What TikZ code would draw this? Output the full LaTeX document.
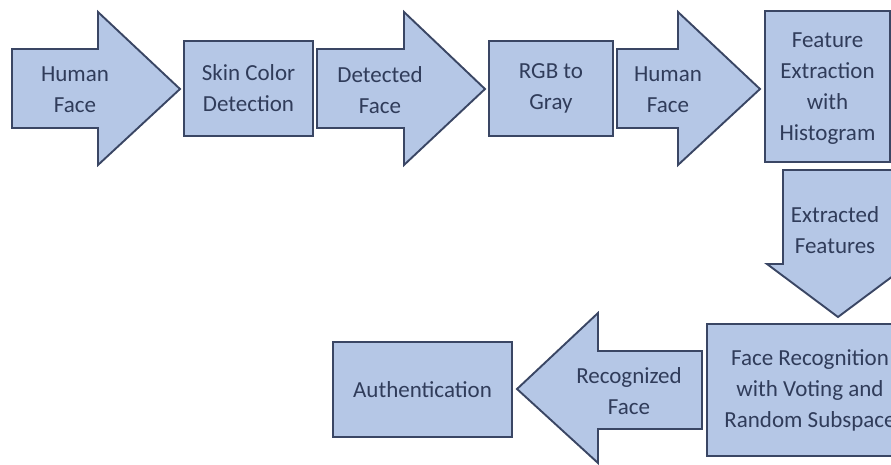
\documentclass[tikz,border=0pt]{standalone}
\usepackage{fontspec}
\setmainfont{Carlito}
\definecolor{boxfill}{RGB}{181,199,230}
\definecolor{boxline}{RGB}{58,70,100}
\definecolor{boxtext}{RGB}{48,60,90}
\begin{document}
\begin{tikzpicture}[x=1pt,y=-1pt,
  shapeline/.style={draw=boxline,fill=boxfill,line width=1.9pt,line join=miter},
  lbl/.style={text=boxtext,font=\fontsize{23}{31}\selectfont,align=center,inner sep=0pt},
  stepbox/.style={shapeline,lbl,inner sep=0pt}]
\useasboundingbox (0,0) rectangle (891,464);
% arrow 1
\draw[shapeline] (12,49) -- (98,49) -- (98,12) -- (180,89) -- (98,165) -- (98,128) -- (12,128) -- cycle;
\node[lbl] (a1) at (75,90) {Human\\Face};
% box skin
\node[stepbox,minimum width=129pt,minimum height=95pt] (skin) at (248.5,88.5) {Skin Color\\Detection};
% arrow 2
\draw[shapeline] (317,49) -- (404,49) -- (404,12) -- (485,89) -- (404,165) -- (404,128) -- (317,128) -- cycle;
\node[lbl] (a2) at (380,90) {Detected\\Face};
% box rgb
\node[stepbox,minimum width=124pt,minimum height=95pt] (rgb) at (551,88.5) {RGB to\\Gray};
% arrow 3
\draw[shapeline] (617,49) -- (678,49) -- (678,12) -- (760,89) -- (678,165) -- (678,128) -- (617,128) -- cycle;
\node[lbl] (a3) at (668,90) {Human\\Face};
% feature extraction box
\node[stepbox,minimum width=125pt,minimum height=151pt] (fe) at (827.5,86.5) {};
\node[lbl] (fetext) at (827.5,89) {Feature\\Extraction\\with\\Histogram};
% down arrow
\draw[shapeline] (783,170) -- (893,170) -- (893,264) -- (909,264) -- (838,317) -- (767,264) -- (783,264) -- cycle;
\node[lbl] (a4) at (835,230) {Extracted\\Features};
% face recognition box
\node[stepbox,minimum width=206pt,minimum height=132pt] (fr) at (810,390) {Face Recognition\\with Voting and\\Random Subspace};
% left arrow
\draw[shapeline] (702,351) -- (598,351) -- (598,313) -- (517,389) -- (598,463) -- (598,429) -- (702,429) -- cycle;
\node[lbl] (a5) at (629,391) {Recognized\\Face};
% authentication box
\node[stepbox,minimum width=179pt,minimum height=95pt] (auth) at (422.5,389.5) {Authentication};
\end{tikzpicture}
\end{document}
